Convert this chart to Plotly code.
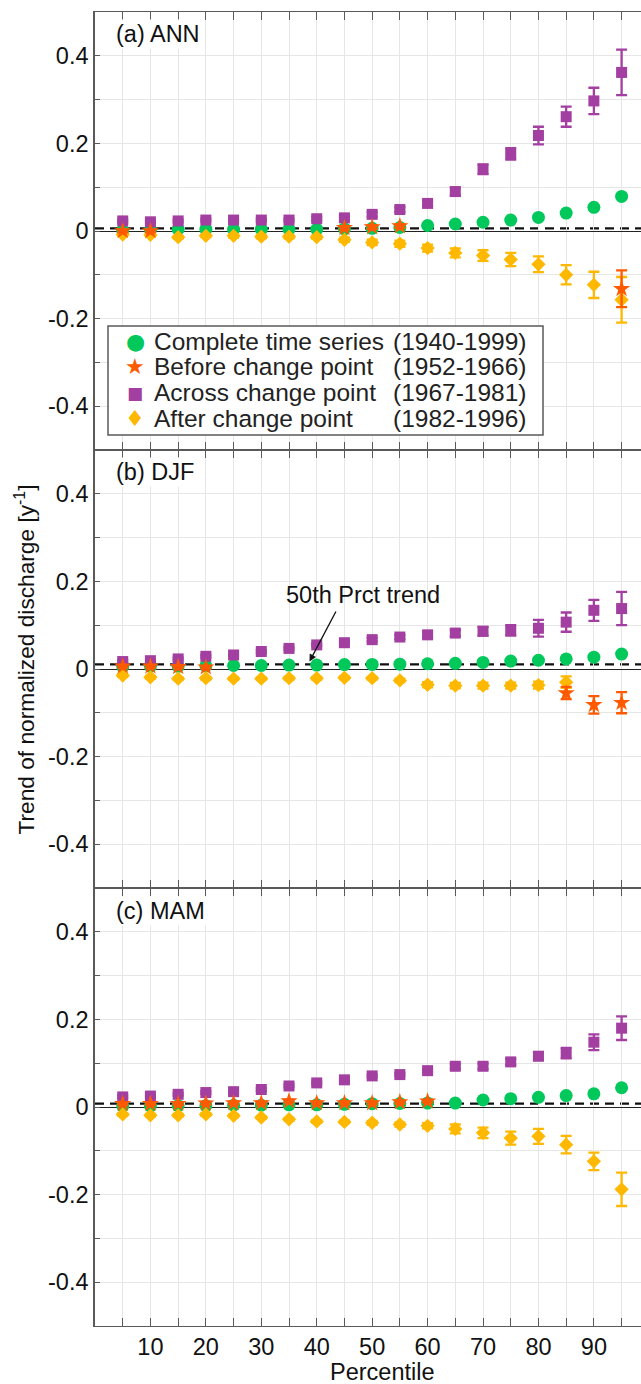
import plotly.graph_objects as go

# ---------------- data ----------------
percentiles = [5, 10, 15, 20, 25, 30, 35, 40, 45, 50, 55, 60, 65, 70, 75, 80, 85, 90, 95]

x_tick_vals = [5, 10, 15, 20, 25, 30, 35, 40, 45, 50, 55, 60, 65, 70, 75, 80, 85, 90, 95]
x_tick_labels = ["", "10", "", "20", "", "30", "", "40", "", "50", "", "60", "", "70", "", "80", "", "90", ""]
y_tick_vals = [-0.4, -0.3, -0.2, -0.1, 0.0, 0.1, 0.2, 0.3, 0.4]
y_tick_labels = ["-0.4", "", "-0.2", "", "0", "", "0.2", "", "0.4"]

panel_titles = ["(a) ANN", "(b) DJF", "(c) MAM"]

series_names = ["Complete time series", "Before change point", "Across change point", "After change point"]
series_years = ["(1940-1999)", "(1952-1966)", "(1967-1981)", "(1982-1996)"]

# Panel (a) ANN
ann_complete = [0.001, 0.002, 0.004, 0.004, 0.004, 0.004, 0.004, 0.004, 0.005, 0.006, 0.008, 0.0125, 0.016, 0.020, 0.025, 0.031, 0.041, 0.054, 0.079]
ann_complete_err = [0.002] * 19
ann_before = [0.0, 0.0, None, None, None, None, None, None, 0.007, 0.009, 0.011, None, None, None, None, None, None, None, -0.132]
ann_before_err = [0.003, 0.003, None, None, None, None, None, None, 0.004, 0.004, 0.004, None, None, None, None, None, None, None, 0.042]
ann_across = [0.023, 0.021, 0.023, 0.025, 0.025, 0.025, 0.025, 0.028, 0.030, 0.038, 0.049, 0.063, 0.090, 0.141, 0.176, 0.218, 0.261, 0.297, 0.362]
ann_across_err = [0.003, 0.003, 0.003, 0.003, 0.003, 0.003, 0.003, 0.004, 0.004, 0.005, 0.005, 0.006, 0.009, 0.011, 0.013, 0.020, 0.023, 0.030, 0.052]
ann_after = [-0.008, -0.009, -0.014, -0.011, -0.011, -0.013, -0.013, -0.014, -0.020, -0.026, -0.029, -0.039, -0.050, -0.056, -0.065, -0.076, -0.100, -0.123, -0.157]
ann_after_err = [0.003, 0.003, 0.003, 0.003, 0.004, 0.004, 0.004, 0.004, 0.005, 0.006, 0.007, 0.008, 0.010, 0.012, 0.015, 0.018, 0.022, 0.030, 0.052]

# Panel (b) DJF
djf_complete = [0.005, 0.006, 0.006, 0.007, 0.008, 0.008, 0.009, 0.009, 0.010, 0.0105, 0.011, 0.012, 0.013, 0.015, 0.018, 0.020, 0.023, 0.027, 0.034]
djf_complete_err = [0.002] * 19
djf_before = [0.006, 0.006, 0.005, 0.004, None, None, None, None, None, None, None, None, None, None, None, None, -0.055, -0.082, -0.077]
djf_before_err = [0.003, 0.003, 0.003, 0.003, None, None, None, None, None, None, None, None, None, None, None, None, 0.014, 0.020, 0.024]
djf_across = [0.017, 0.019, 0.023, 0.029, 0.032, 0.040, 0.047, 0.055, 0.060, 0.067, 0.073, 0.078, 0.082, 0.086, 0.088, 0.093, 0.107, 0.134, 0.138]
djf_across_err = [0.003, 0.003, 0.003, 0.003, 0.003, 0.003, 0.003, 0.003, 0.003, 0.004, 0.004, 0.005, 0.007, 0.010, 0.012, 0.019, 0.022, 0.024, 0.038]
djf_after = [-0.015, -0.019, -0.022, -0.021, -0.022, -0.022, -0.021, -0.021, -0.020, -0.021, -0.026, -0.036, -0.038, -0.038, -0.038, -0.037, -0.030, None, None]
djf_after_err = [0.003, 0.003, 0.003, 0.003, 0.003, 0.003, 0.003, 0.003, 0.003, 0.003, 0.004, 0.006, 0.006, 0.007, 0.007, 0.008, 0.013, None, None]

# Panel (c) MAM
mam_complete = [0.002, 0.002, 0.003, 0.003, 0.004, 0.004, 0.005, 0.005, 0.006, 0.0075, 0.008, 0.009, 0.009, 0.016, 0.019, 0.022, 0.026, 0.030, 0.044]
mam_complete_err = [0.002] * 19
mam_before = [0.0075, 0.0075, 0.0075, 0.0085, 0.009, 0.009, 0.0135, 0.009, 0.009, 0.009, 0.011, 0.013, None, None, None, None, None, None, None]
mam_before_err = [0.003, 0.003, 0.003, 0.003, 0.003, 0.003, 0.003, 0.003, 0.003, 0.003, 0.003, 0.003, None, None, None, None, None, None, None]
mam_across = [0.023, 0.025, 0.029, 0.033, 0.035, 0.040, 0.048, 0.055, 0.062, 0.071, 0.074, 0.083, 0.093, 0.093, 0.103, 0.116, 0.123, 0.148, 0.180]
mam_across_err = [0.003, 0.003, 0.003, 0.003, 0.003, 0.003, 0.003, 0.003, 0.003, 0.003, 0.003, 0.003, 0.005, 0.006, 0.007, 0.009, 0.012, 0.018, 0.027]
mam_after = [-0.017, -0.019, -0.019, -0.017, -0.020, -0.024, -0.028, -0.033, -0.034, -0.036, -0.040, -0.043, -0.050, -0.059, -0.071, -0.067, -0.086, -0.124, -0.188]
mam_after_err = [0.003, 0.003, 0.003, 0.003, 0.003, 0.003, 0.003, 0.003, 0.003, 0.004, 0.005, 0.006, 0.010, 0.012, 0.015, 0.017, 0.020, 0.020, 0.038]

panels = [
    dict(complete=(ann_complete, ann_complete_err), before=(ann_before, ann_before_err),
         across=(ann_across, ann_across_err), after=(ann_after, ann_after_err)),
    dict(complete=(djf_complete, djf_complete_err), before=(djf_before, djf_before_err),
         across=(djf_across, djf_across_err), after=(djf_after, djf_after_err)),
    dict(complete=(mam_complete, mam_complete_err), before=(mam_before, mam_before_err),
         across=(mam_across, mam_across_err), after=(mam_after, mam_after_err)),
]

# ---------------- style ----------------
FONT = "Liberation Sans, Arial, Helvetica, sans-serif"
GREEN = "#00C85A"
ORANGE = "#FF5A00"
PURPLE = "#A23FA0"
YELLOW = "#FFB800"
AXIS = "#5a5a5a"
GRID = "#e6e6e6"
TXT = "#111111"

style = {
    "complete": dict(symbol="circle", size=13, color=GREEN),
    "across": dict(symbol="square", size=11, color=PURPLE),
    "after": dict(symbol="diamond", size=11, color=YELLOW),
    "before": dict(symbol="star", size=13, color=ORANGE),
}
draw_order = ["complete", "across", "after", "before"]
key_to_name = {"complete": 0, "before": 1, "across": 2, "after": 3}

W, H = 641, 1384
ML, MR, MT, MB = 95, 0, 12, 58
PW = W - ML - MR
PLOT_H = H - MT - MB
PH = PLOT_H / 3.0

fig = go.Figure()

for i, pdata in enumerate(panels):
    sfx = "" if i == 0 else str(i + 1)
    for key in draw_order:
        vals, errs = pdata[key]
        st = style[key]
        fig.add_trace(go.Scatter(
            x=percentiles, y=vals, mode="markers",
            xaxis="x" + sfx, yaxis="y" + sfx,
            marker=dict(symbol=st["symbol"], size=st["size"], color=st["color"], line=dict(width=0)),
            error_y=dict(type="data", array=errs, visible=True, color=st["color"], thickness=2.3, width=5.5),
            showlegend=False, cliponaxis=False,
            name=series_names[key_to_name[key]],
        ))

shapes = []
annotations = []
axes = {}


def py_to_paper(py):
    return (H - MB - py) / PLOT_H


def px_to_paper(px):
    return (px - ML) / PW


for i in range(3):
    sfx = "" if i == 0 else str(i + 1)
    top = 1 - i / 3.0
    bot = 1 - (i + 1) / 3.0
    xa = dict(
        domain=[0, 1], anchor="y" + sfx, range=[0, 98.5],
        tickmode="array", tickvals=x_tick_vals, ticktext=x_tick_labels,
        showticklabels=(i == 2), ticks="inside", ticklen=8, tickwidth=1.2, tickcolor=AXIS,
        showline=True, linecolor=AXIS, linewidth=1.2, mirror="allticks",
        showgrid=True, gridcolor=GRID, gridwidth=1, zeroline=False,
        tickfont=dict(size=23.5, color=TXT), automargin=False,
    )
    if i > 0:
        xa["matches"] = "x"
    axes["xaxis" + sfx] = xa
    axes["yaxis" + sfx] = dict(
        domain=[bot, top], anchor="x" + sfx, range=[-0.5, 0.5],
        tickmode="array", tickvals=y_tick_vals, ticktext=y_tick_labels,
        ticks="inside", ticklen=5, tickwidth=1.2, tickcolor=AXIS,
        showline=True, linecolor=AXIS, linewidth=1.6, mirror=False,
        showgrid=True, gridcolor=GRID, gridwidth=1,
        zeroline=True, zerolinecolor="#222222", zerolinewidth=1.2,
        tickfont=dict(size=23.5, color=TXT), automargin=False,
    )
    # dashed line: 50th percentile trend of the complete series
    comp_vals = panels[i]["complete"][0]
    median_trend = comp_vals[percentiles.index(50)]
    shapes.append(dict(
        type="line", xref="x" + sfx, yref="y" + sfx,
        x0=0, x1=98.5, y0=median_trend, y1=median_trend,
        line=dict(color=TXT, width=2.2, dash="9px,6px"), layer="below",
    ))
    # panel label
    annotations.append(dict(
        text=panel_titles[i], xref="paper", yref="paper",
        x=px_to_paper(114), y=top - 22.5 / PLOT_H, xanchor="left", yanchor="middle",
        showarrow=False, bgcolor="white", font=dict(size=23.5, color=TXT),
    ))

# ---- legend box in panel (a) ----
shapes.append(dict(
    type="rect", xref="paper", yref="paper",
    x0=px_to_paper(108), x1=px_to_paper(543), y0=py_to_paper(435), y1=py_to_paper(326),
    fillcolor="white", line=dict(color=AXIS, width=1.5), layer="above",
))
legend_rows_py = [341.7, 366.7, 392.7, 418.3]
legend_glyphs = ["\u25CF", "\u2605", "\u25A0", "\u2666"]
legend_glyph_colors = [GREEN, ORANGE, PURPLE, YELLOW]
legend_glyph_sizes = [22, 22, 17, 22]
for k in range(4):
    yy = py_to_paper(legend_rows_py[k])
    annotations.append(dict(
        text=legend_glyphs[k], xref="paper", yref="paper",
        x=px_to_paper(135), y=yy, xanchor="center", yanchor="middle", showarrow=False,
        font=dict(family="DejaVu Sans", size=legend_glyph_sizes[k], color=legend_glyph_colors[k]),
    ))
    annotations.append(dict(
        text=series_names[k], xref="paper", yref="paper",
        x=px_to_paper(152), y=yy, xanchor="left", yanchor="middle", showarrow=False,
        font=dict(size=24.5, color="#222222"),
    ))
    annotations.append(dict(
        text=series_years[k], xref="paper", yref="paper",
        x=px_to_paper(528), y=yy, xanchor="right", yanchor="middle", showarrow=False,
        font=dict(size=24.5, color="#222222"),
    ))

# ---- 50th percentile annotation in panel (b) ----
annotations.append(dict(
    text="50th Prct trend", xref="x2", yref="y2", x=48.3, y=0.168,
    xanchor="center", yanchor="middle", showarrow=False, font=dict(size=23.5, color=TXT),
))
annotations.append(dict(
    text=" ", xref="x2", yref="y2", x=38.7, y=0.017,
    axref="x2", ayref="y2", ax=43.7, ay=0.137,
    showarrow=True, arrowhead=2, arrowsize=1.1, arrowwidth=1.3, arrowcolor=TXT, standoff=0,
    font=dict(size=2),
))

# ---- axis titles ----
annotations.append(dict(
    text="Trend of normalized discharge [y<sup>-1</sup>]", xref="paper", yref="paper",
    x=px_to_paper(24.5), y=py_to_paper(660), xanchor="center", yanchor="middle",
    textangle=-90, showarrow=False, font=dict(size=22.7, color=TXT),
))
annotations.append(dict(
    text="Percentile", xref="paper", yref="paper",
    x=px_to_paper(382), y=py_to_paper(1371.7), xanchor="center", yanchor="middle",
    showarrow=False, font=dict(size=23.5, color=TXT),
))

fig.update_layout(
    width=W, height=H,
    margin=dict(l=ML, r=MR, t=MT, b=MB, pad=0, autoexpand=False),
    paper_bgcolor="white", plot_bgcolor="white",
    font=dict(family=FONT, size=23.5, color=TXT),
    shapes=shapes, annotations=annotations,
    **axes,
)
fig.write_html(
    "out.html",
    config={"displayModeBar": False},
    post_script="document.body.style.margin='0px';document.body.style.padding='0px';document.body.style.overflow='hidden';",
)
